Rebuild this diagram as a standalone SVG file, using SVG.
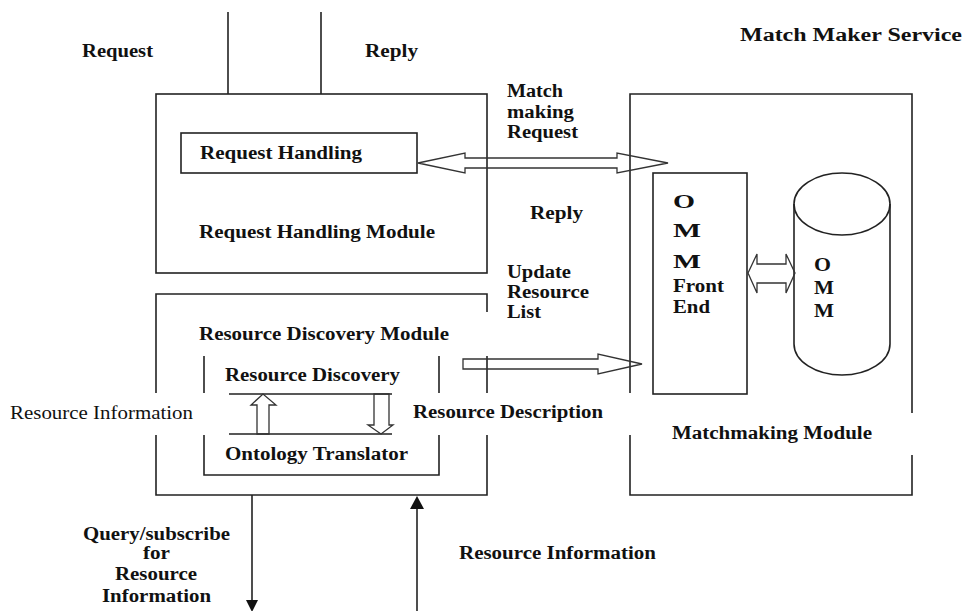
<svg xmlns="http://www.w3.org/2000/svg" width="967" height="611" viewBox="0 0 967 611">
  <defs>
    <style>
      .ln { fill: none; stroke: #222; stroke-width: 1.6; }
      .ar { fill: none; stroke: #333; stroke-width: 1.3; stroke-linejoin: miter; }
      .t { font-family: "Liberation Serif", "Times New Roman", serif; font-weight: bold; font-size: 18px; fill: #111; }
      .tn { font-family: "Liberation Serif", "Times New Roman", serif; font-size: 18px; fill: #111; }
    </style>
  </defs>
  <rect width="967" height="611" fill="#fff"/>

  <g id="title">
    <text class="t" x="740" y="41" font-size="23" textLength="222" lengthAdjust="spacingAndGlyphs">Match Maker Service</text>
  </g>

  <g id="request-handling-module">
    <rect class="ln" x="156" y="94" width="331" height="179"/>
    <rect class="ln" x="181" y="133" width="236" height="40"/>
    <text class="t" x="200" y="159" textLength="162" lengthAdjust="spacingAndGlyphs">Request Handling</text>
    <text class="t" x="199" y="238" textLength="236" lengthAdjust="spacingAndGlyphs">Request Handling Module</text>
  </g>

  <g id="resource-discovery-module">
    <path class="ln" d="M156 393 V294 H487 V312 M487 356 V393 M156 435 V495 H487 V435"/>
    <path class="ln" d="M204 356 V393 M204 435 V475 H439 V435 M439 393 V356"/>
    <path class="ln" d="M229 394 H392 M229 434 H392"/>
    <text class="t" x="199" y="340" textLength="250" lengthAdjust="spacingAndGlyphs">Resource Discovery Module</text>
    <text class="t" x="225" y="381" textLength="175" lengthAdjust="spacingAndGlyphs">Resource Discovery</text>
    <text class="t" x="225" y="460" textLength="183" lengthAdjust="spacingAndGlyphs">Ontology Translator</text>
  </g>

  <g id="matchmaking-module">
    <path class="ln" d="M630 393 V94 H912 V413 M912 455 V495 H630 V435"/>
    <text class="t" x="672" y="439" textLength="200" lengthAdjust="spacingAndGlyphs">Matchmaking Module</text>
  </g>

  <g id="omm-front-end">
    <rect class="ln" x="653" y="173" width="94" height="221"/>
    <text class="t" x="673" y="208" font-size="22" textLength="22" lengthAdjust="spacingAndGlyphs">O</text>
    <text class="t" x="673" y="237" font-size="22" textLength="28" lengthAdjust="spacingAndGlyphs">M</text>
    <text class="t" x="673" y="268" font-size="22" textLength="28" lengthAdjust="spacingAndGlyphs">M</text>
    <text class="t" x="673" y="292" textLength="51" lengthAdjust="spacingAndGlyphs">Front</text>
    <text class="t" x="673" y="313" textLength="37" lengthAdjust="spacingAndGlyphs">End</text>
  </g>

  <g id="omm-store">
    <path class="ln" d="M794 204 V344 A48 31 0 0 0 890 344 V204"/>
    <ellipse class="ln" cx="842" cy="204" rx="48" ry="31"/>
    <text class="t" x="814" y="271" textLength="17" lengthAdjust="spacingAndGlyphs">O</text>
    <text class="t" x="814" y="294" textLength="20" lengthAdjust="spacingAndGlyphs">M</text>
    <text class="t" x="814" y="317" textLength="20" lengthAdjust="spacingAndGlyphs">M</text>
  </g>

  <g id="connectors">
    <!-- request / reply lines entering the request handling module -->
    <path class="ln" d="M228 12 V94 M321 12 V94"/>
    <!-- matchmaking request / reply double arrow -->
    <path class="ar" d="M418 163 L465 153 V158 H617 V153 L668 163 L617 173 V168 H465 V173 Z"/>
    <!-- update resource list arrow -->
    <path class="ar" d="M463 359 H598 V354 L642 364 L598 374 V369 H463 Z"/>
    <!-- front end to store -->
    <path class="ar" d="M748 273 L757 254 V264 H786 V254 L795 273 L786 293 V283 H757 V293 Z"/>
    <!-- translator up / down arrows -->
    <path class="ar" d="M257 434 V405 H251 L263 394 L276 405 H269 V434 Z"/>
    <path class="ar" d="M374 394 V425 H368 L381 434 L393 425 H389 V394 Z"/>
    <!-- external query / information arrows -->
    <path class="ln" d="M252 495 V602"/>
    <path d="M246 600 L258 600 L252 612 Z" fill="#111"/>
    <path class="ln" d="M417 611 V506"/>
    <path d="M410 509 L424 509 L417 496 Z" fill="#111"/>
  </g>

  <g id="labels">
    <text class="t" x="82" y="57" textLength="71" lengthAdjust="spacingAndGlyphs">Request</text>
    <text class="t" x="365" y="57" textLength="53" lengthAdjust="spacingAndGlyphs">Reply</text>
    <text class="t" x="507" y="97" textLength="56" lengthAdjust="spacingAndGlyphs">Match</text>
    <text class="t" x="507" y="118" textLength="67" lengthAdjust="spacingAndGlyphs">making</text>
    <text class="t" x="507" y="138" textLength="71" lengthAdjust="spacingAndGlyphs">Request</text>
    <text class="t" x="530" y="219" textLength="53" lengthAdjust="spacingAndGlyphs">Reply</text>
    <text class="t" x="507" y="278" textLength="64" lengthAdjust="spacingAndGlyphs">Update</text>
    <text class="t" x="507" y="298" textLength="82" lengthAdjust="spacingAndGlyphs">Resource</text>
    <text class="t" x="507" y="318" textLength="34" lengthAdjust="spacingAndGlyphs">List</text>
    <text class="tn" x="10" y="419" textLength="183" lengthAdjust="spacingAndGlyphs">Resource Information</text>
    <text class="t" x="413" y="418" textLength="190" lengthAdjust="spacingAndGlyphs">Resource Description</text>
    <text class="t" x="83" y="540" textLength="147" lengthAdjust="spacingAndGlyphs">Query/subscribe</text>
    <text class="t" x="143" y="559" textLength="27" lengthAdjust="spacingAndGlyphs">for</text>
    <text class="t" x="115" y="580" textLength="82" lengthAdjust="spacingAndGlyphs">Resource</text>
    <text class="t" x="102" y="602" textLength="109" lengthAdjust="spacingAndGlyphs">Information</text>
    <text class="t" x="459" y="559" textLength="197" lengthAdjust="spacingAndGlyphs">Resource Information</text>
  </g>
</svg>
